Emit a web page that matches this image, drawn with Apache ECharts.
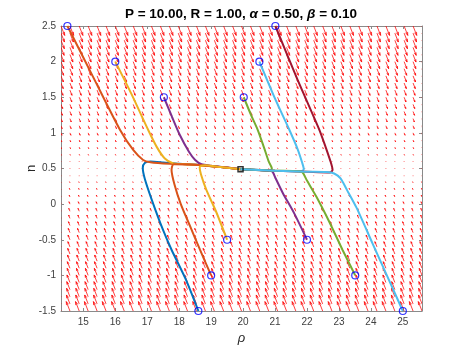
<!DOCTYPE html>
<html>
<head>
<meta charset="utf-8">
<script src="https://cdn.jsdelivr.net/npm/echarts@6/dist/echarts.min.js"></script>
<style>
html,body{margin:0;padding:0;background:#fff}
#chart{width:467px;height:350px}
</style>
</head>
<body>
<div id="chart"></div>
<script>
// quiver grid (rho columns, n rows)
const rhoGrid = [14.30, 14.58, 14.87, 15.15, 15.43, 15.71, 16.00, 16.28, 16.56, 16.84,
    17.13, 17.41, 17.69, 17.97, 18.26, 18.54, 18.82, 19.10, 19.39, 19.67,
    19.95, 20.23, 20.52, 20.80, 21.08, 21.36, 21.65, 21.93, 22.21, 22.49,
    22.78, 23.06, 23.34, 23.62, 23.91, 24.19, 24.47, 24.75, 25.04, 25.32, 25.60]
const nGrid = [-1.5, -1.4, -1.3, -1.2, -1.1, -1.0, -0.9, -0.8, -0.7, -0.6,
    -0.5, -0.4, -0.3, -0.2, -0.1, 0.0, 0.1, 0.2, 0.3, 0.4,
    0.5, 0.6, 0.7, 0.8, 0.9, 1.0, 1.1, 1.2, 1.3, 1.4,
    1.5, 1.6, 1.7, 1.8, 1.9, 2.0, 2.1, 2.2, 2.3, 2.4, 2.5]
// arrow components for each row of nGrid (as drawn, in axis units)
const rowDRho = [-0.115, -0.109, -0.104, -0.098, -0.092, -0.086, -0.081, -0.075, -0.069, -0.063,
    -0.058, -0.052, -0.046, -0.040, -0.035, -0.029, -0.023, -0.017, -0.012, -0.006,
    0.000, 0.006, 0.012, 0.017, 0.023, 0.029, 0.035, 0.040, 0.046, 0.052,
    0.058, 0.063, 0.069, 0.075, 0.081, 0.086, 0.092, 0.098, 0.104, 0.109, 0.115]
const rowDN = [0.132, 0.125, 0.119, 0.112, 0.106, 0.099, 0.092, 0.086, 0.079, 0.073,
    0.066, 0.059, 0.053, 0.046, 0.040, 0.033, 0.026, 0.020, 0.013, 0.007,
    0.003, -0.007, -0.013, -0.020, -0.026, -0.033, -0.040, -0.046, -0.053, -0.059,
    -0.066, -0.073, -0.079, -0.086, -0.092, -0.099, -0.106, -0.112, -0.119, -0.125, -0.132]

// trajectories [rho, n]
const trajBlue = [[18.6,-1.5],[18.2,-1.05],[17.76,-0.64],[17.5,-0.37],[17.15,0.05],[16.92,0.36],[16.86,0.51],[16.93,0.58],[17.1,0.598],[17.5,0.585],[18.0,0.565],[18.6,0.55],[19.3,0.52],[19.92,0.49]]
const trajOrangeTop = [[14.5,2.5],[15.3,1.79],[16.15,1.04],[16.56,0.76],[16.87,0.62],[17.1,0.588],[17.7,0.566],[18.6,0.55],[19.3,0.52],[19.92,0.49]]
const trajYellowTop = [[16.0,2.0],[16.5,1.55],[17.03,1.04],[17.3,0.8],[17.55,0.64],[17.8,0.575],[18.2,0.56],[18.6,0.55],[19.3,0.52],[19.92,0.49]]
const trajPurpleTop = [[17.52,1.5],[17.77,1.23],[18.02,0.97],[18.3,0.74],[18.5,0.62],[18.7,0.56],[19.0,0.54],[19.4,0.52],[19.92,0.49]]
const trajGreenTop = [[20.02,1.5],[20.25,1.25],[20.46,1.04],[20.65,0.8],[20.8,0.6],[20.9,0.5],[20.85,0.47],[20.4,0.48],[19.92,0.49]]
const trajCyanTop = [[20.51,2.0],[21.0,1.48],[21.45,1.04],[21.7,0.78],[21.85,0.58],[21.9,0.49],[21.8,0.46],[21.0,0.47],[19.92,0.49]]
const trajDarkRed = [[21.01,2.5],[21.7,1.75],[22.39,1.04],[22.6,0.78],[22.75,0.58],[22.8,0.48],[22.72,0.445],[22.0,0.455],[21.0,0.47],[19.92,0.49]]
const trajOrangeBottom = [[19.0,-1.0],[18.65,-0.64],[18.35,-0.32],[18.05,0.0],[17.85,0.28],[17.76,0.48],[17.82,0.56],[18.1,0.56],[18.6,0.55],[19.3,0.52],[19.92,0.49]]
const trajYellowBottom = [[19.5,-0.5],[19.15,-0.1],[18.85,0.2],[18.68,0.42],[18.64,0.52],[18.8,0.545],[19.3,0.52],[19.92,0.49]]
const trajPurpleBottom = [[22.0,-0.5],[21.6,-0.13],[21.25,0.15],[21.02,0.36],[20.93,0.45],[20.85,0.47],[20.4,0.478],[19.92,0.49]]
const trajGreenBottom = [[23.51,-1.0],[23.11,-0.64],[22.7,-0.25],[22.3,0.1],[22.0,0.33],[21.85,0.45],[21.7,0.462],[21.0,0.47],[19.92,0.49]]
const trajCyanBottom = [[25.0,-1.5],[24.5,-1.0],[24.05,-0.55],[23.55,-0.05],[23.25,0.2],[23.05,0.36],[22.85,0.43],[22.6,0.45],[22.0,0.455],[21.0,0.47],[19.92,0.49]]
const equilibrium = [19.92, 0.49]

const xTicks = [15, 16, 17, 18, 19, 20, 21, 22, 23, 24, 25]

const trajectories = [
    {data: trajBlue, color: '#0072BD'},
    {data: trajOrangeTop, color: '#D95319'},
    {data: trajYellowTop, color: '#EDB120'},
    {data: trajPurpleTop, color: '#7E2F8E'},
    {data: trajGreenTop, color: '#77AC30'},
    {data: trajCyanTop, color: '#4DBEEE'},
    {data: trajDarkRed, color: '#A2142F'},
    {data: trajOrangeBottom, color: '#D95319'},
    {data: trajYellowBottom, color: '#EDB120'},
    {data: trajPurpleBottom, color: '#7E2F8E'},
    {data: trajGreenBottom, color: '#77AC30'},
    {data: trajCyanBottom, color: '#4DBEEE'}
]

// build quiver data from the grid
let quiverData = []
for (let i = 0; i < nGrid.length; i++)
    for (let j = 0; j < rhoGrid.length; j++)
        quiverData.push([rhoGrid[j], nGrid[i], rowDRho[i], rowDN[i]])

const arrowColor = '#ff0000'
function renderArrow(params, api) {
    const x = api.value(0), y = api.value(1)
    const p0 = api.coord([x, y])
    const p1 = api.coord([x + api.value(2), y + api.value(3)])
    const dx = p1[0] - p0[0], dy = p1[1] - p0[1]
    const len = Math.hypot(dx, dy)
    if (len < 0.6) {
        return {type: 'rect', shape: {x: p0[0] - 0.5, y: p0[1] - 0.5, width: 1, height: 1},
            style: {fill: arrowColor, opacity: 0.5}}
    }
    const ux = dx / len, uy = dy / len
    const h = len * 0.33
    const w = h * 0.33
    const bx = p1[0] - ux * h, by = p1[1] - uy * h
    const style = {stroke: arrowColor, lineWidth: 0.85, fill: null, opacity: 0.9}
    return {
        type: 'group',
        children: [
            {type: 'polyline', shape: {points: [p0, p1]}, style: style},
            {type: 'polyline', shape: {points: [[bx - uy * w, by + ux * w], p1, [bx + uy * w, by - ux * w]]}, style: style}
        ]
    }
}

const axisGray = '#8a8a8a'
const font = 'Liberation Sans, Helvetica, Arial, sans-serif'

let series = [{
    type: 'custom',
    renderItem: renderArrow,
    data: quiverData,
    clip: true,
    silent: true,
    z: 1
}]
trajectories.forEach((t, k) => {
    series.push({
        type: 'line',
        data: t.data,
        showSymbol: false,
        symbol: 'none',
        smooth: 0.25,
        lineStyle: {color: t.color, width: 2},
        z: 2 + k * 0.01,
        silent: true
    })
})
series.push({
    type: 'scatter',
    data: trajectories.map(t => t.data[0]),
    symbol: 'circle',
    symbolSize: 7,
    itemStyle: {color: 'rgba(255,255,255,0)', borderColor: '#0000ff', borderWidth: 1.2},
    z: 4
})
series.push({
    type: 'scatter',
    data: [equilibrium],
    symbol: 'rect',
    symbolSize: 5,
    itemStyle: {color: 'rgba(255,255,255,0)', borderColor: '#000', borderWidth: 1.5},
    z: 5
})

let option = {
    animation: false,
    backgroundColor: '#fff',
    textStyle: {fontFamily: font},
    grid: {left: 61, top: 26, width: 361, height: 285, containLabel: false},
    graphic: [{
        type: 'text',
        x: 241,
        y: 14,
        style: {
            text: '{b|P = 10.00, R = 1.00, }{i|α}{b| = 0.50, }{i|β}{b| = 0.10}',
            align: 'center',
            verticalAlign: 'middle',
            rich: {
                b: {fontWeight: 'bold', fontSize: 13.5, fill: '#000', fontFamily: font},
                i: {fontWeight: 'bold', fontStyle: 'italic', fontSize: 13.5, fill: '#000', fontFamily: font}
            }
        }
    }],
    xAxis: [{
        type: 'value',
        min: 14.3,
        max: 25.6,
        position: 'bottom',
        name: 'ρ',
        nameLocation: 'middle',
        nameGap: 20,
        nameTextStyle: {fontStyle: 'italic', fontSize: 13, color: '#262626'},
        axisLine: {show: true, onZero: false, lineStyle: {color: axisGray}},
        axisTick: {show: true, inside: true, length: 3, customValues: xTicks, lineStyle: {color: axisGray}},
        axisLabel: {customValues: xTicks, fontSize: 10, color: '#404040', margin: 6},
        splitLine: {show: false}
    }, {
        type: 'value',
        min: 14.3,
        max: 25.6,
        position: 'top',
        axisLine: {show: true, onZero: false, lineStyle: {color: axisGray}},
        axisTick: {show: true, inside: true, length: 3, customValues: xTicks, lineStyle: {color: axisGray}},
        axisLabel: {show: false},
        splitLine: {show: false}
    }],
    yAxis: [{
        type: 'value',
        min: -1.5,
        max: 2.5,
        interval: 0.5,
        position: 'left',
        name: 'n',
        nameLocation: 'middle',
        nameGap: 23,
        nameMoveOverlap: false,
        nameTextStyle: {fontSize: 13, color: '#262626'},
        axisLine: {show: true, onZero: false, lineStyle: {color: axisGray}},
        axisTick: {show: true, inside: true, length: 3, lineStyle: {color: axisGray}},
        axisLabel: {fontSize: 10, color: '#404040', margin: 5},
        splitLine: {show: false}
    }, {
        type: 'value',
        min: -1.5,
        max: 2.5,
        interval: 0.5,
        position: 'right',
        axisLine: {show: true, onZero: false, lineStyle: {color: axisGray}},
        axisTick: {show: true, inside: true, length: 3, lineStyle: {color: axisGray}},
        axisLabel: {show: false},
        splitLine: {show: false}
    }],
    series: series
}

let chartDom = echarts.init(document.querySelector("#chart"), null, {renderer: 'canvas'})
chartDom.setOption(option)
</script>
</body>
</html>
